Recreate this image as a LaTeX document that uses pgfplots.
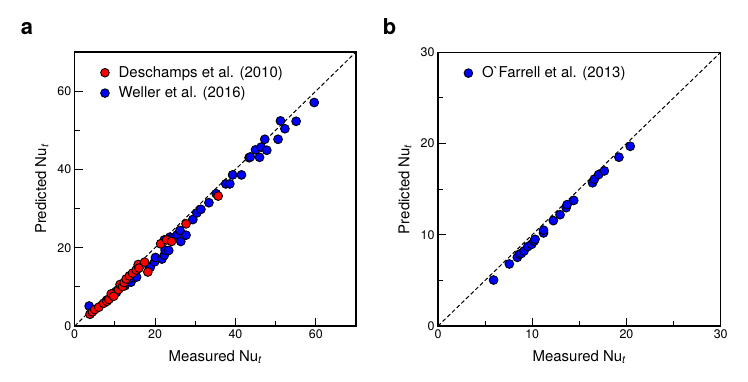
\documentclass[border=0pt]{standalone}
\usepackage{fontspec}
\setmainfont{TeX Gyre Heros}
\usepackage{pgfplots}
\pgfplotsset{compat=1.18}
\begin{document}
\begin{tikzpicture}
\path[use as bounding box] (0bp,0bp) rectangle (748bp,382bp);
\pgfplotsset{
  myax/.style={
    scale only axis,
    axis line style={line width=1.2bp},
    tick align=inside,
    xtick pos=bottom, ytick pos=left,
    major tick length=8bp, minor tick length=5bp,
    every tick/.style={line width=1bp, black},
    minor tick num=1,
    tick label style={font=\fontsize{12.5}{14}\selectfont},
    /pgf/number format/assume math mode=true,
    xlabel={Measured Nu\textsubscript{\textit{t}}},
    ylabel={Predicted Nu\textsubscript{\textit{t}}},
    every axis x label/.style={at={(axis description cs:0.5,-0.128)}, anchor=base, font=\fontsize{15}{17}\selectfont},
    every axis y label/.style={at={(axis description cs:-0.117,0.5)}, rotate=90, anchor=center, font=\fontsize{15}{17}\selectfont},
    legend style={draw=none, fill=none, font=\fontsize{15}{17}\selectfont, anchor=north west,
      row sep=4bp, inner sep=0pt, legend cell align=left, column sep=7bp},
    legend image code/.code={\draw[#1] (0bp,0bp) circle (4.3bp);},
  },
  bluemk/.style={only marks, mark=*, mark size=4.4bp, draw=black, fill=blue, line width=0.9bp},
  redmk/.style={only marks, mark=*, mark size=4.4bp, draw=black, fill=red, line width=0.9bp},
  diag/.style={black, line width=1bp, dash pattern=on 4bp off 2.5bp, forget plot},
}
\begin{axis}[myax,
  at={(74.7bp,56bp)}, anchor=south west,
  width=281.3bp, height=274bp,
  xmin=0, xmax=70, ymin=0, ymax=70,
  xtick={0,20,40,60}, ytick={0,20,40,60},
  minor xtick={10,30,50,70}, minor ytick={10,30,50,70},
  minor tick num=0,
  legend style={at={(axis description cs:0.09,0.955)}},
  reverse legend,
]
\addplot[diag] coordinates {(0,0) (70,70)};
\addplot[bluemk] coordinates {
(3.6,5.1) (8.0,6.6) (10.4,8.6) (12.5,10.3) (14.0,11.2) (14.1,12.3) (15.4,12.5)
(15.5,14.5) (18.5,15.2) (18.8,15.0) (19.9,16.4) (20.1,17.5) (21.7,17.1) (22.3,18.1)
(22.5,19.4) (23.4,19.3) (22.3,22.0) (23.7,22.7) (24.2,22.3) (25.5,23.3) (26.2,24.4)
(26.4,21.6) (27.7,23.2) (29.4,27.2) (30.4,28.9) (31.4,29.8) (33.4,31.5) (35.2,33.8)
(37.6,36.3) (38.6,36.3) (39.3,38.6) (41.5,38.6) (43.4,43.0) (43.7,43.2) (45.0,45.0)
(46.0,43.1) (46.4,45.7) (47.3,47.7) (47.8,44.9) (50.6,47.7) (51.2,52.4) (52.3,50.4)
(55.1,52.3) (59.6,57.1)
};
\addlegendentry{Weller et al. (2016)}
\addplot[redmk] coordinates {
(3.8,3.0) (4.4,3.6) (5.0,4.2) (6.0,4.8) (7.2,5.8) (8.0,6.3) (8.5,6.8) (9.1,8.2)
(9.7,7.6) (10.9,9.3) (11.3,10.6) (11.9,10.1) (12.3,11.1) (12.8,12.0) (13.6,12.8)
(14.4,13.5) (15.3,14.3) (15.8,15.7) (16.0,14.8) (17.4,16.3) (18.2,13.8) (21.4,21.0)
(22.9,22.0) (24.1,21.6) (27.7,26.1) (35.7,33.2)
};
\addlegendentry{Deschamps et al. (2010)}
\end{axis}
\begin{axis}[myax,
  at={(438bp,56bp)}, anchor=south west,
  width=282.7bp, height=273.7bp,
  xmin=0, xmax=30, ymin=0, ymax=30,
  xtick={0,10,20,30}, ytick={0,10,20,30},
  minor tick num=1,
  legend style={at={(axis description cs:0.09,0.955)}},
]
\addplot[diag] coordinates {(0,0) (30,30)};
\addplot[bluemk] coordinates {
(5.9,5.04) (7.57,6.8) (8.42,7.53) (8.63,7.86) (8.85,7.95) (9.13,8.22) (9.52,8.7)
(9.94,8.95) (10.2,9.3) (10.3,9.5) (11.2,10.2) (11.2,10.5) (12.24,11.55) (12.95,12.2)
(13.6,12.97) (13.7,13.3) (14.4,13.77) (16.4,15.7) (16.6,16.1) (17.05,16.6)
(17.65,17.0) (19.2,18.5) (20.4,19.7)
};
\addlegendentry{{\fontspec{TeX Gyre Heros}O`Farrell et al. (2013)}}
\end{axis}
\node[font=\fontsize{22}{24}\selectfont\bfseries, anchor=center] at (27bp,353.5bp) {a};
\node[font=\fontsize{22}{24}\selectfont\bfseries, anchor=center] at (389.5bp,355bp) {b};
\end{tikzpicture}
\end{document}
